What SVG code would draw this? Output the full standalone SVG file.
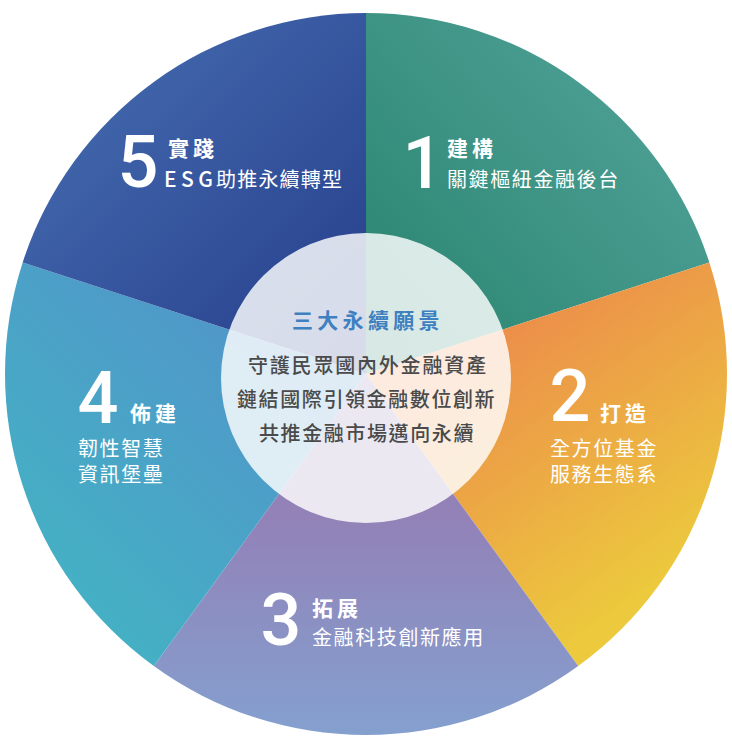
<svg xmlns="http://www.w3.org/2000/svg" width="732" height="743" viewBox="0 0 732 743">
<defs>
<linearGradient id="g5" gradientUnits="userSpaceOnUse" x1="60" y1="80" x2="340" y2="360"><stop offset="0" stop-color="#4369ae"/><stop offset="1" stop-color="#273f8c"/></linearGradient>
<linearGradient id="g1" gradientUnits="userSpaceOnUse" x1="680" y1="100" x2="400" y2="340"><stop offset="0" stop-color="#4fa096"/><stop offset="1" stop-color="#2b8672"/></linearGradient>
<linearGradient id="g2" gradientUnits="userSpaceOnUse" x1="520" y1="320" x2="690" y2="560"><stop offset="0" stop-color="#ec8f4a"/><stop offset="1" stop-color="#ecc93d"/></linearGradient>
<linearGradient id="g3" gradientUnits="userSpaceOnUse" x1="366" y1="520" x2="366" y2="735"><stop offset="0" stop-color="#9282b8"/><stop offset="1" stop-color="#84a0cf"/></linearGradient>
<linearGradient id="g4" gradientUnits="userSpaceOnUse" x1="330" y1="330" x2="60" y2="600"><stop offset="0" stop-color="#5292ca"/><stop offset="1" stop-color="#44b1c4"/></linearGradient>
<style>
.num{font-family:Roboto,"Liberation Sans",sans-serif;font-size:72px;font-weight:500;fill:#fff;text-anchor:middle}
.ttl{font-family:"Noto Sans CJK TC","Noto Sans",sans-serif;font-size:21px;font-weight:700;fill:#fff;letter-spacing:4px}
.sub{font-family:"Noto Sans CJK TC","Noto Sans",sans-serif;font-size:20px;font-weight:400;fill:#fff;letter-spacing:1.6px}
.ctr{font-family:"Noto Sans CJK TC","Noto Sans",sans-serif;font-size:20px;font-weight:500;fill:#4a4a4a}
.ctt{font-family:"Noto Sans CJK TC","Noto Sans",sans-serif;font-size:21px;font-weight:700;fill:#3f80c0;letter-spacing:4.3px}
</style>
</defs>
<g id="connectors"/>
<g id="node1">
<path d="M366,374 L366,13 A361,361 0 0 1 709.33,262.44 Z" fill="url(#g1)"/>
<text class="num" x="423" y="188">1</text>
<text class="ttl" x="447" y="156">建構</text>
<text class="sub" x="447" y="187">關鍵樞紐金融後台</text>
</g>
<g id="node2">
<path d="M366,374 L709.33,262.44 A361,361 0 0 1 578.19,666.06 Z" fill="url(#g2)"/>
<text class="num" x="570" y="421">2</text>
<text class="ttl" x="600" y="421">打造</text>
<text class="sub" x="550" y="456">全方位基金</text>
<text class="sub" x="550" y="482">服務生態系</text>
</g>
<g id="node3">
<path d="M366,374 L578.19,666.06 A361,361 0 0 1 153.81,666.06 Z" fill="url(#g3)"/>
<text class="num" x="281" y="645">3</text>
<text class="ttl" x="312" y="616">拓展</text>
<text class="sub" x="312" y="645">金融科技創新應用</text>
</g>
<g id="node4">
<path d="M366,374 L153.81,666.06 A361,361 0 0 1 22.67,262.44 Z" fill="url(#g4)"/>
<text class="num" x="98" y="423">4</text>
<text class="ttl" x="130" y="421">佈建</text>
<text class="sub" x="78" y="456">韌性智慧</text>
<text class="sub" x="78" y="482">資訊堡壘</text>
</g>
<g id="node5">
<path d="M366,374 L22.67,262.44 A361,361 0 0 1 366,13 Z" fill="url(#g5)"/>
<text class="num" x="138" y="187">5</text>
<text class="ttl" x="168" y="156">實踐</text>
<text class="sub" x="164" y="187"><tspan letter-spacing="4.5" font-weight="500" font-size="21">ESG</tspan><tspan x="216" letter-spacing="1.2">助推永續轉型</tspan></text>
</g>
<g id="center">
<circle cx="366" cy="378" r="145" fill="#fff" fill-opacity="0.82"/>
<text class="ctt" x="292" y="328">三大永續願景</text>
<text class="ctr" x="248" y="373" letter-spacing="1.8">守護民眾國內外金融資產</text>
<text class="ctr" x="237" y="407" letter-spacing="1.6">鏈結國際引領金融數位創新</text>
<text class="ctr" x="259" y="441" letter-spacing="1.6">共推金融市場邁向永續</text>
</g>
</svg>
